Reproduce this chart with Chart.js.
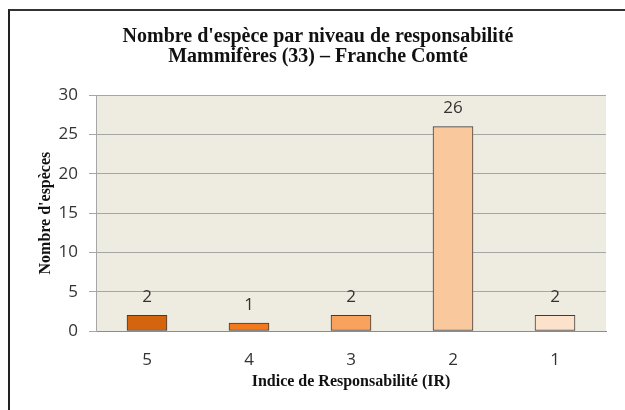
<!DOCTYPE html>
<html lang="fr">
<head>
<meta charset="utf-8">
<title>Nombre d'espèce par niveau de responsabilité</title>
<script src="https://cdn.jsdelivr.net/npm/chart.js@4.4.1/dist/chart.umd.min.js"></script>
<style>
  body { margin: 0; background: #fff; overflow: hidden; }
  .wrap { position: relative; width: 625px; height: 410px; overflow: hidden; }
  .cadre { position: absolute; left: 8px; top: 9px; width: 640px; height: 420px;
           border-left: 2px solid #222; border-top: 2px solid #333; }
  canvas { position: absolute; left: 0; top: 0; }
</style>
</head>
<body>
<div class="wrap">
  <div class="cadre"></div>
  <canvas id="graphe" width="625" height="410"></canvas>
</div>
<script>
// donnees
const niveaux = ['5', '4', '3', '2', '1'];
const nbEspeces = [2, 1, 2, 26, 2];
const couleurs = ['#D4650E', '#F27A1C', '#F8A25D', '#FAC89D', '#FCE2CB'];
const yTicks = [0, 5, 10, 15, 20, 25, 30];

const serif = "'Liberation Serif', 'DejaVu Serif', serif";
const sans = "'Open Sans', 'Noto Sans', sans-serif";

// fond beige de la zone de tracé
const fondZone = {
  id: 'fondZone',
  beforeDraw(chart) {
    const a = chart.chartArea;
    const ctx = chart.ctx;
    ctx.save();
    ctx.fillStyle = '#EEEBE1';
    ctx.fillRect(a.left, a.top, a.right - a.left, a.bottom - a.top);
    ctx.restore();
  }
};

// valeurs au-dessus des barres
const etiquettes = {
  id: 'etiquettes',
  afterDatasetsDraw(chart) {
    const ctx = chart.ctx;
    const meta = chart.getDatasetMeta(0);
    ctx.save();
    ctx.font = '17px ' + sans;
    ctx.fillStyle = '#333';
    ctx.textAlign = 'center';
    ctx.textBaseline = 'middle';
    meta.data.forEach(function (bar, i) {
      ctx.fillText(nbEspeces[i], bar.x, bar.y - 18);
    });
    ctx.restore();
  }
};

new Chart(document.getElementById('graphe'), {
  type: 'bar',
  data: {
    labels: niveaux,
    datasets: [{
      data: nbEspeces,
      backgroundColor: couleurs,
      borderColor: '#3C3C3C',
      borderWidth: 1,
      borderSkipped: false,
      barThickness: 40
    }]
  },
  options: {
    responsive: false,
    animation: false,
    layout: { padding: { left: 15, right: 4 } },
    plugins: {
      legend: { display: false },
      tooltip: { enabled: false },
      title: {
        display: true,
        text: ["Nombre d'espèce par niveau de responsabilité", 'Mammifères (33) – Franche Comté'],
        color: '#111',
        font: { family: serif, size: 20, weight: 'bold', lineHeight: 0.98 },
        padding: { top: 27, bottom: 29 }
      }
    },
    scales: {
      x: {
        grid: { display: false },
        border: { color: '#8C8C8C' },
        ticks: { color: '#333', font: { family: sans, size: 17 }, padding: 11 },
        title: {
          display: true,
          text: 'Indice de Responsabilité (IR)',
          color: '#111',
          font: { family: serif, size: 16, weight: 'bold' },
          padding: { bottom: 19 }
        },
        afterFit: function (s) { s.height = 79; }
      },
      y: {
        min: 0,
        max: 30,
        afterBuildTicks: function (s) { s.ticks = yTicks.map(v => ({ value: v })); },
        grid: { color: '#A6A6A6', tickLength: 7 },
        border: { color: '#A6A6A6' },
        ticks: { color: '#333', font: { family: sans, size: 17 }, padding: 11 },
        title: {
          display: true,
          text: "Nombre d'espèces",
          color: '#111',
          font: { family: serif, size: 16, weight: 'bold' },
          padding: { top: 21 }
        },
        afterFit: function (s) { s.width = 81; }
      },
      // marge vide à droite de la zone de tracé
      marge: {
        position: 'right',
        grid: { display: false },
        border: { display: false },
        ticks: { display: false },
        afterFit: function (s) { s.width = 15; }
      }
    }
  },
  plugins: [fondZone, etiquettes]
});
</script>
</body>
</html>
